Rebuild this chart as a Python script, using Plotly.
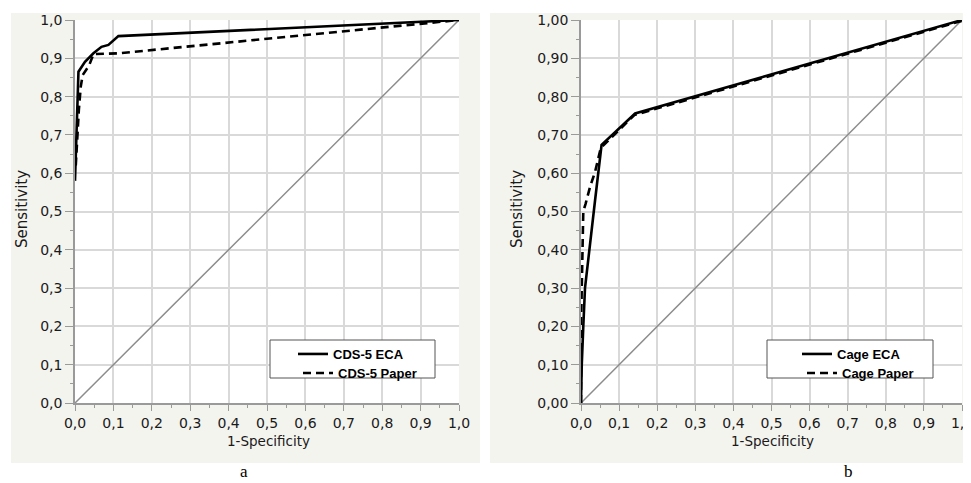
import plotly.graph_objects as go

# ---- data ----
tick_vals = [0.0, 0.1, 0.2, 0.3, 0.4, 0.5, 0.6, 0.7, 0.8, 0.9, 1.0]

a_eca_x = [0.0, 0.002, 0.005, 0.009, 0.026, 0.048, 0.069, 0.087, 0.113, 1.0]
a_eca_y = [0.58, 0.65, 0.76, 0.865, 0.891, 0.913, 0.930, 0.935, 0.958, 1.0]
a_pap_x = [0.002, 0.004, 0.010, 0.015, 0.020, 0.037, 0.048, 0.113, 1.0]
a_pap_y = [0.62, 0.66, 0.765, 0.826, 0.856, 0.882, 0.911, 0.913, 1.0]

b_eca_x = [0.0, 0.002, 0.006, 0.0105, 0.037, 0.054, 0.142, 1.0]
b_eca_y = [0.0, 0.10, 0.20, 0.30, 0.53, 0.674, 0.756, 1.0]
b_pap_x = [0.0, 0.0, 0.003, 0.006, 0.012, 0.024, 0.037, 0.052, 0.140, 1.0]
b_pap_y = [0.0, 0.20, 0.35, 0.50, 0.52, 0.565, 0.604, 0.666, 0.752, 0.998]

diag = [0.0, 1.0]

names_a = ["CDS-5 ECA", "CDS-5 Paper"]
names_b = ["Cage ECA", "Cage Paper"]

# the page body has an 8px margin: the figure starts at (8, 8) in the window
OFF = 8
W, H = 971 - OFF, 483 - OFF
def px(x): return (x - OFF) / W
def py(y): return (H - (y - OFF)) / H

fig = go.Figure()
LW = 2.6
DASH = "8px,5px"

# panel a
fig.add_trace(go.Scatter(x=diag, y=diag, mode="lines", line=dict(color="#8c8c8c", width=1.5),
                         showlegend=False, xaxis="x", yaxis="y", hoverinfo="skip"))
fig.add_trace(go.Scatter(x=a_pap_x, y=a_pap_y, mode="lines", name=names_a[1],
                         line=dict(color="black", width=LW, dash=DASH), xaxis="x", yaxis="y", legend="legend2"))
fig.add_trace(go.Scatter(x=a_eca_x, y=a_eca_y, mode="lines", name=names_a[0],
                         line=dict(color="black", width=LW), xaxis="x", yaxis="y", legend="legend"))
# panel b
fig.add_trace(go.Scatter(x=diag, y=diag, mode="lines", line=dict(color="#8c8c8c", width=1.5),
                         showlegend=False, xaxis="x2", yaxis="y2", hoverinfo="skip"))
fig.add_trace(go.Scatter(x=b_pap_x, y=b_pap_y, mode="lines", name=names_b[1],
                         line=dict(color="black", width=LW, dash=DASH), xaxis="x2", yaxis="y2", legend="legend4"))
fig.add_trace(go.Scatter(x=b_eca_x, y=b_eca_y, mode="lines", name=names_b[0],
                         line=dict(color="black", width=LW), xaxis="x2", yaxis="y2", legend="legend3"))

tick_font = dict(family="DejaVu Sans, sans-serif", size=14, color="#1a1a1a")
xtitle_font = dict(family="DejaVu Sans, sans-serif", size=13.5, color="#1a1a1a")
ytitle_font = dict(family="DejaVu Sans, sans-serif", size=15, color="#1a1a1a")
leg_font = dict(family="Liberation Sans, Arial, sans-serif", size=13, color="black", weight="bold")

def xaxis(dom, anchor, ticklen=6):
    return dict(domain=dom, anchor=anchor, range=[0, 1], tickvals=tick_vals, tickformat=".1f",
                showgrid=True, gridcolor="#d9d9d9", gridwidth=1.5, showline=True, linecolor="#9a9a9a",
                linewidth=1.5, ticks="outside", ticklen=ticklen, tickcolor="#9a9a9a", tickfont=tick_font,
                minor=dict(ticks="outside", ticklen=3, dtick=0.05, tick0=0, tickcolor="#9a9a9a", showgrid=False),
                zeroline=False, fixedrange=True, automargin=False, ticklabeloverflow="allow")

def yaxis(dom, anchor, fmt):
    d = xaxis(dom, anchor, ticklen=8)
    d["tickformat"] = fmt
    return d

xd1 = [px(75), px(459)]
xd2 = [px(581), px(962)]
yd = [py(403), py(20)]

def leg(xl, ytop):
    return dict(x=px(xl), y=py(ytop), xanchor="left", yanchor="top", bgcolor="rgba(0,0,0,0)",
                borderwidth=0, font=leg_font, itemwidth=30)

fig.update_layout(
    width=W, height=H, margin=dict(l=0, r=0, t=0, b=0, autoexpand=False),
    paper_bgcolor="white", plot_bgcolor="white", separators=", ",
    xaxis=xaxis(xd1, "y"), yaxis=yaxis(yd, "x", ".1f"),
    xaxis2=xaxis(xd2, "y2"), yaxis2=yaxis(yd, "x2", ".2f"),
    legend=leg(293, 339), legend2=leg(298, 358),
    legend3=leg(797, 339), legend4=leg(802, 358),
    shapes=[
        dict(type="rect", xref="paper", yref="paper", x0=px(11), x1=px(480), y0=py(463), y1=py(13),
             fillcolor="#f4f4ef", line=dict(width=0), layer="below"),
        dict(type="rect", xref="paper", yref="paper", x0=px(490), x1=px(971), y0=py(463), y1=py(13),
             fillcolor="#f4f4ef", line=dict(width=0), layer="below"),
        dict(type="rect", xref="paper", yref="paper", x0=xd1[0], x1=xd1[1], y0=yd[0], y1=yd[1],
             fillcolor="white", line=dict(width=0), layer="below"),
        dict(type="rect", xref="paper", yref="paper", x0=xd2[0], x1=xd2[1], y0=yd[0], y1=yd[1],
             fillcolor="white", line=dict(width=0), layer="below"),
        dict(type="rect", xref="paper", yref="paper", x0=px(270), x1=px(435), y0=py(378), y1=py(340),
             fillcolor="white", line=dict(width=1, color="#555555"), layer="above"),
        dict(type="rect", xref="paper", yref="paper", x0=px(767), x1=px(933), y0=py(378), y1=py(340),
             fillcolor="white", line=dict(width=1, color="#555555"), layer="above"),
    ],
    annotations=[
        dict(text="Sensitivity", x=px(22), y=py(209), xref="paper", yref="paper", textangle=-90,
             showarrow=False, font=ytitle_font, xanchor="center", yanchor="middle"),
        dict(text="Sensitivity", x=px(517), y=py(209), xref="paper", yref="paper", textangle=-90,
             showarrow=False, font=ytitle_font, xanchor="center", yanchor="middle"),
        dict(text="1-Specificity", x=px(268), y=py(441), xref="paper", yref="paper",
             showarrow=False, font=xtitle_font, xanchor="center", yanchor="middle"),
        dict(text="1-Specificity", x=px(772), y=py(441), xref="paper", yref="paper",
             showarrow=False, font=xtitle_font, xanchor="center", yanchor="middle"),
        dict(text="a", x=px(244), y=py(471), xref="paper", yref="paper", showarrow=False,
             font=dict(family="Liberation Serif, Times New Roman, serif", size=17, color="black"),
             xanchor="center", yanchor="middle"),
        dict(text="b", x=px(848), y=py(471), xref="paper", yref="paper", showarrow=False,
             font=dict(family="Liberation Serif, Times New Roman, serif", size=17, color="black"),
             xanchor="center", yanchor="middle"),
    ],
)

fig.write_html("out.html")
